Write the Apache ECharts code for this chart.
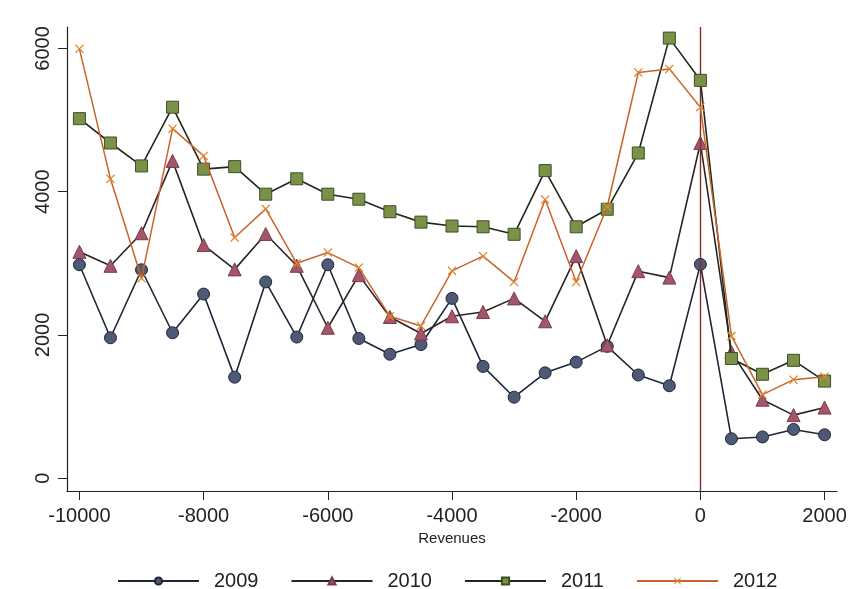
<!DOCTYPE html>
<html>
<head>
<meta charset="utf-8">
<script src="https://cdn.jsdelivr.net/npm/echarts@6/dist/echarts.min.js"></script>
<style>
html,body{margin:0;padding:0;background:#fff;}
#chart{width:851px;height:589px;}
</style>
</head>
<body>
<div id="chart"></div>
<script>
var revenues = [-10000,-9500,-9000,-8500,-8000,-7500,-7000,-6500,-6000,-5500,-5000,-4500,-4000,-3500,-3000,-2500,-2000,-1500,-1000,-500,0,500,1000,1500,2000];
var y2009 = [2980,1960,2910,2030,2570,1410,2740,1970,2980,1950,1730,1865,2510,1560,1130,1470,1620,1840,1440,1290,2985,550,575,680,605];
var y2010 = [3160,2965,3420,4430,3255,2915,3410,2965,2100,2835,2250,2020,2260,2320,2510,2190,3100,1855,2890,2800,4680,1760,1095,880,985];
var y2011 = [5020,4680,4360,5180,4315,4350,3965,4180,3965,3895,3720,3575,3520,3510,3405,4295,3510,3755,4540,6145,5555,1670,1450,1645,1355];
var y2012 = [5995,4180,2790,4880,4500,3360,3760,3000,3150,2940,2260,2125,2895,3100,2740,3890,2740,3790,5665,5715,5180,1985,1165,1375,1415];
var xTicks = [-10000,-8000,-6000,-4000,-2000,0,2000];
var yTicks = [0,2000,4000,6000];
var seriesNames = ['2009','2010','2011','2012'];

function pairs(arr){ return revenues.map(function(x,i){ return [x, arr[i]]; }); }
function plain(v){ return String(v); }

var font = 'Liberation Sans, Arial, sans-serif';
var xSym = 'path://M0,1L1,0L5,4L9,0L10,1L6,5L10,9L9,10L5,6L1,10L0,9L4,5Z';

var chart = echarts.init(document.getElementById('chart'));
chart.setOption({
  backgroundColor: '#ffffff',
  animation: false,
  grid: {left: 67, right: 14, top: 27, bottom: 98},
  xAxis: {
    type: 'value', min: -10200, max: 2200,
    name: 'Revenues', nameLocation: 'middle', nameGap: 37,
    nameTextStyle: {fontFamily: font, fontSize: 15, color: '#222'},
    axisLine: {show: true, onZero: false, lineStyle: {color: '#222', width: 1.2}},
    axisTick: {show: true, length: 9, customValues: xTicks, lineStyle: {color: '#222'}},
    axisLabel: {customValues: xTicks, formatter: plain, margin: 15, fontFamily: font, fontSize: 20, color: '#222'},
    splitLine: {show: false}
  },
  yAxis: {
    type: 'value', min: -180, max: 6300,
    axisLine: {show: true, onZero: false, lineStyle: {color: '#222', width: 1.2}},
    axisTick: {show: true, length: 9, customValues: yTicks, lineStyle: {color: '#222'}},
    axisLabel: {customValues: yTicks, formatter: plain, rotate: 90, margin: 14, fontFamily: font, fontSize: 20, color: '#222'},
    splitLine: {show: false}
  },
  legend: {
    data: seriesNames,
    left: 112, top: 566,
    itemWidth: 81, itemHeight: 9, itemGap: 32,
    textStyle: {fontFamily: font, fontSize: 20, color: '#222', padding: [0,0,0,10]}
  },
  series: [
    {name: '2009', type: 'line', data: pairs(y2009), symbol: 'circle', symbolSize: 12,
     lineStyle: {color: '#1f2538', width: 1.6},
     itemStyle: {color: '#4e5a75', borderColor: '#1f2538', borderWidth: 1},
     markLine: {silent: true, symbol: 'none', label: {show: false},
       lineStyle: {color: '#8b2a2a', width: 1.4, type: 'solid'},
       data: [{xAxis: 0}]},
     z: 3},
    {name: '2010', type: 'line', data: pairs(y2010), symbol: 'triangle', symbolSize: 13,
     lineStyle: {color: '#2a2224', width: 1.6},
     itemStyle: {color: '#a3566a', borderColor: '#7a3a48', borderWidth: 1},
     z: 4},
    {name: '2011', type: 'line', data: pairs(y2011), symbol: 'rect', symbolSize: 12,
     lineStyle: {color: '#1d2a1a', width: 1.6},
     itemStyle: {color: '#7a9248', borderColor: '#3e4e26', borderWidth: 1},
     z: 5},
    {name: '2012', type: 'line', data: pairs(y2012), symbol: xSym, symbolSize: 9,
     lineStyle: {color: '#c8642a', width: 1.5},
     itemStyle: {color: '#e0852e', borderColor: '#e0852e', borderWidth: 0},
     z: 6}
  ]
});
</script>
</body>
</html>
